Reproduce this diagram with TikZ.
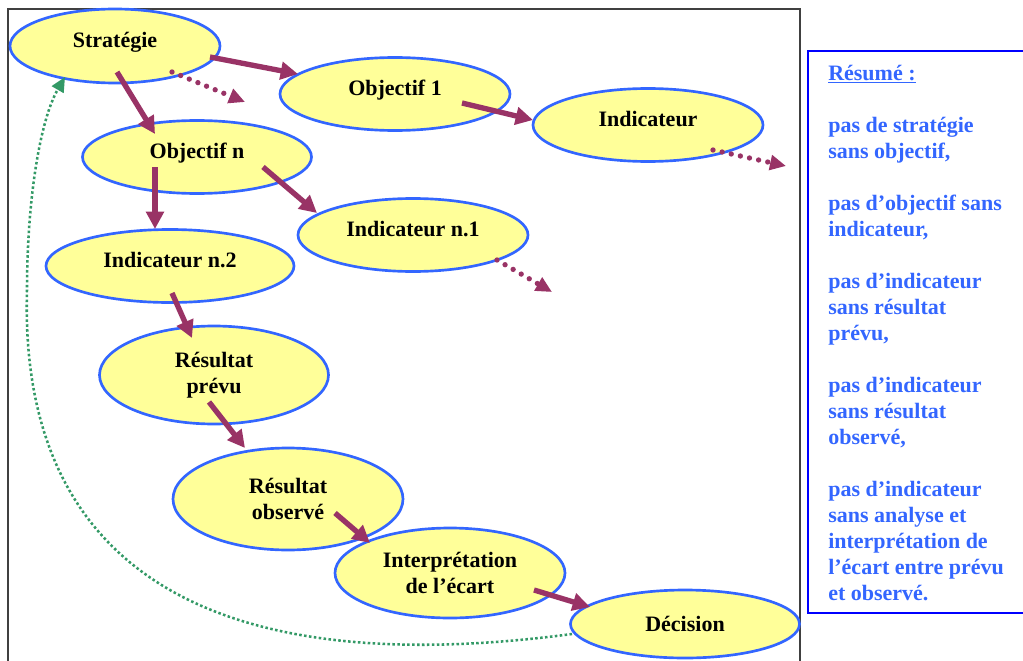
\documentclass[tikz,border=0pt]{standalone}
\usepackage{fontspec}
\setmainfont{Liberation Serif}
\usepackage{xcolor}
\usetikzlibrary{shapes.geometric,arrows.meta}
\definecolor{jauneBulle}{HTML}{FFFF99}
\definecolor{bleuBord}{HTML}{3366FF}
\definecolor{bleuCadre}{HTML}{0000FF}
\definecolor{prune}{HTML}{993366}
\definecolor{vertRetour}{HTML}{339966}
\newcommand{\unitePx}{0.75pt}
\newcommand{\texteBulle}{\fontsize{16.5}{19.5}\selectfont\bfseries}

\begin{document}
\begin{tikzpicture}[x=0.75pt,y=-0.75pt,
	bulle/.style={ellipse,draw=bleuBord,line width=2pt,fill=jauneBulle,inner sep=0pt,align=center,font=\texteBulle},
	uneLigne/.style={text height=0.72em,text depth=0.55em},
	fleche/.style={draw=prune,line width=4pt,-{Triangle[length=13pt,width=13pt]}},
	suite/.style={draw=prune,line width=4pt,line cap=round,dash pattern=on 0pt off 7pt,-{Triangle[length=12pt,width=11pt]}},
	retour/.style={draw=vertRetour,line width=1.9pt,dash pattern=on 1.9pt off 1.8pt,-{Triangle[length=11pt,width=10pt]}}]
	\useasboundingbox (0,0) rectangle (1023,660);

	% cadre
	\draw[line width=1.5pt,draw=black!75] (8,670) -- (8,9) -- (800,9) -- (800,670);

	\node[bulle,uneLigne,minimum width=210*\unitePx,minimum height=74*\unitePx] (STRAT) at (115,46) {Stratégie};
	\node[bulle,uneLigne,minimum width=230*\unitePx,minimum height=73*\unitePx] (OBJ1) at (395,94) {Objectif 1};
	\node[bulle,uneLigne,minimum width=230*\unitePx,minimum height=73*\unitePx] (IND) at (648,125) {Indicateur};
	\node[bulle,uneLigne,minimum width=229*\unitePx,minimum height=73*\unitePx] (OBJN) at (197,157) {Objectif n};
	\node[bulle,uneLigne,minimum width=230*\unitePx,minimum height=73*\unitePx] (INDN1) at (413,235) {Indicateur n.1};
	\node[bulle,uneLigne,minimum width=248*\unitePx,minimum height=73*\unitePx] (INDN2) at (170,266) {Indicateur n.2};
	\node[bulle,minimum width=229*\unitePx,minimum height=98*\unitePx] (RESP) at (214,375) {Résultat\\prévu};
	\node[bulle,minimum width=230*\unitePx,minimum height=102*\unitePx] (RESO) at (288,499) {Résultat\\observé};
	\node[bulle,minimum width=230*\unitePx,minimum height=90*\unitePx] (INTERP) at (450,573) {Interprétation\\de l’écart};
	\node[bulle,minimum width=229*\unitePx,minimum height=68*\unitePx] (DEC) at (685,624) {Décision};

	\coordinate (SUITESTRAT) at (245,102);
	\coordinate (SUITEIND) at (786,166);
	\coordinate (SUITEINDN1) at (552,292);
	\coordinate (COUDE) at (27,290);

	\draw[fleche] ([shift={(95,11)}]STRAT.center) -- ([shift={(-97,-20)}]OBJ1.center);
	\draw[fleche] ([shift={(2,26)}]STRAT.center) -- ([shift={(-42,-23)}]OBJN.center);
	\draw[suite] ([shift={(57,26)}]STRAT.center) -- (SUITESTRAT);
	\draw[fleche] ([shift={(67,9)}]OBJ1.center) -- ([shift={(-115,-5)}]IND.center);
	\draw[suite] ([shift={(65,25)}]IND.center) -- (SUITEIND);
	\draw[fleche] ([shift={(66,10)}]OBJN.center) -- ([shift={(-96,-22)}]INDN1.center);
	\draw[fleche] ([shift={(-42,10)}]OBJN.center) -- ([shift={(-15,-37)}]INDN2.center);
	\draw[suite] ([shift={(84,25)}]INDN1.center) -- (SUITEINDN1);
	\draw[fleche] ([shift={(2,27)}]INDN2.center) -- ([shift={(-22,-37)}]RESP.center);
	\draw[fleche] ([shift={(-5,27)}]RESP.center) -- ([shift={(-43,-51)}]RESO.center);
	\draw[fleche] ([shift={(47,14)}]RESO.center) -- ([shift={(-80,-30)}]INTERP.center);
	\draw[fleche] ([shift={(84,17)}]INTERP.center) -- ([shift={(-95,-17)}]DEC.center);
	\draw[retour] ([shift={(-113,10)}]DEC.center) .. controls (150,690) and (20,520) .. (COUDE) .. controls (27,200) and (40,120) .. ([shift={(-50,31)}]STRAT.center);

	% resume
	\draw[draw=bleuCadre,line width=1.8pt] (808,51) rectangle (1040,613);
	\node[anchor=base west,inner sep=0pt,align=left,text=bleuBord,font=\texteBulle] (RESUME) at (828,600) {\underline{Résumé :}\\[19.5pt]
		pas de stratégie\\sans objectif,\\[19.5pt]
		pas d’objectif sans\\indicateur,\\[19.5pt]
		pas d’indicateur\\sans résultat\\prévu,\\[19.5pt]
		pas d’indicateur\\sans résultat\\observé,\\[19.5pt]
		pas d’indicateur\\sans analyse et\\interprétation de\\l’écart entre prévu\\et observé.};
\end{tikzpicture}
\end{document}
